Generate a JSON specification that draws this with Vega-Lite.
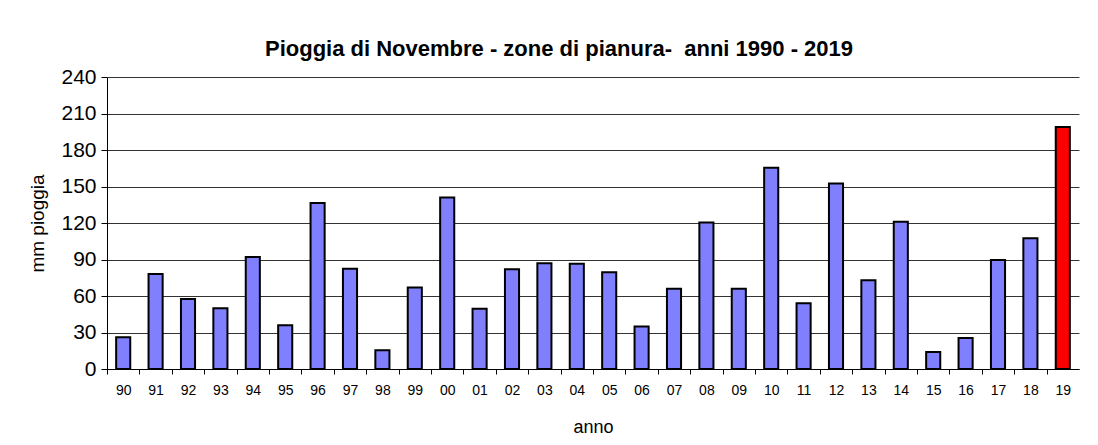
{
  "$schema": "https://vega.github.io/schema/vega-lite/v6.json",
  "width": 972,
  "height": 292,
  "autosize": {"type": "none"},
  "padding": {"left": 107, "top": 77, "right": 19, "bottom": 76},
  "background": "white",
  "title": {
    "text": "Pioggia di Novembre - zone di pianura-\u00a0 anni 1990 - 2019",
    "font": "Liberation Sans",
    "fontSize": 22,
    "fontWeight": "bold",
    "color": "black",
    "anchor": "middle",
    "dx": -34,
    "baseline": "alphabetic",
    "offset": -12
  },
  "data": {
    "values": [
      {"anno": "90", "mm": 26},
      {"anno": "91", "mm": 78},
      {"anno": "92", "mm": 57.5},
      {"anno": "93", "mm": 50},
      {"anno": "94", "mm": 92},
      {"anno": "95", "mm": 36},
      {"anno": "96", "mm": 136.5},
      {"anno": "97", "mm": 82.5},
      {"anno": "98", "mm": 15.5},
      {"anno": "99", "mm": 67},
      {"anno": "00", "mm": 141},
      {"anno": "01", "mm": 49.5},
      {"anno": "02", "mm": 82},
      {"anno": "03", "mm": 87},
      {"anno": "04", "mm": 86.5},
      {"anno": "05", "mm": 79.5},
      {"anno": "06", "mm": 35},
      {"anno": "07", "mm": 66},
      {"anno": "08", "mm": 120.5},
      {"anno": "09", "mm": 66},
      {"anno": "10", "mm": 165.5},
      {"anno": "11", "mm": 54},
      {"anno": "12", "mm": 152.5},
      {"anno": "13", "mm": 73},
      {"anno": "14", "mm": 121},
      {"anno": "15", "mm": 14},
      {"anno": "16", "mm": 25.5},
      {"anno": "17", "mm": 89.5},
      {"anno": "18", "mm": 107.5},
      {"anno": "19", "mm": 199}
    ]
  },
  "mark": {"type": "bar", "stroke": "black", "strokeWidth": 2},
  "encoding": {
    "x": {
      "field": "anno",
      "type": "ordinal",
      "sort": null,
      "scale": {"paddingInner": 0.565, "paddingOuter": 0.2825},
      "axis": {
        "title": "anno",
        "titleFont": "Liberation Sans",
        "titleFontSize": 18,
        "titleFontWeight": "normal",
        "titleColor": "black",
        "titlePadding": 21,
        "labelFont": "Liberation Sans",
        "labelFontSize": 14,
        "labelColor": "black",
        "labelAngle": 0,
        "labelPadding": 9,
        "ticks": true,
        "tickOffset": -16.2,
        "labelOffset": 16.2,
        "tickSize": 5,
        "tickWidth": 1,
        "tickColor": "black",
        "domainColor": "black",
        "grid": false
      }
    },
    "y": {
      "field": "mm",
      "type": "quantitative",
      "scale": {"domain": [0, 240], "nice": false},
      "axis": {
        "title": "mm pioggia",
        "titleFont": "Liberation Sans",
        "titleFontSize": 19,
        "titleFontWeight": "normal",
        "titleColor": "black",
        "titlePadding": 13,
        "values": [0, 30, 60, 90, 120, 150, 180, 210, 240],
        "labelFont": "Liberation Sans",
        "labelFontSize": 21,
        "labelColor": "black",
        "labelPadding": 5,
        "tickSize": 6,
        "tickColor": "black",
        "domainColor": "black",
        "grid": true,
        "gridColor": "#333333",
        "gridOpacity": 1
      }
    },
    "color": {
      "condition": {"test": "datum.anno === '19'", "value": "#FF0000"},
      "value": "#8080FF"
    }
  },
  "config": {
    "view": {"stroke": null}
  }
}
